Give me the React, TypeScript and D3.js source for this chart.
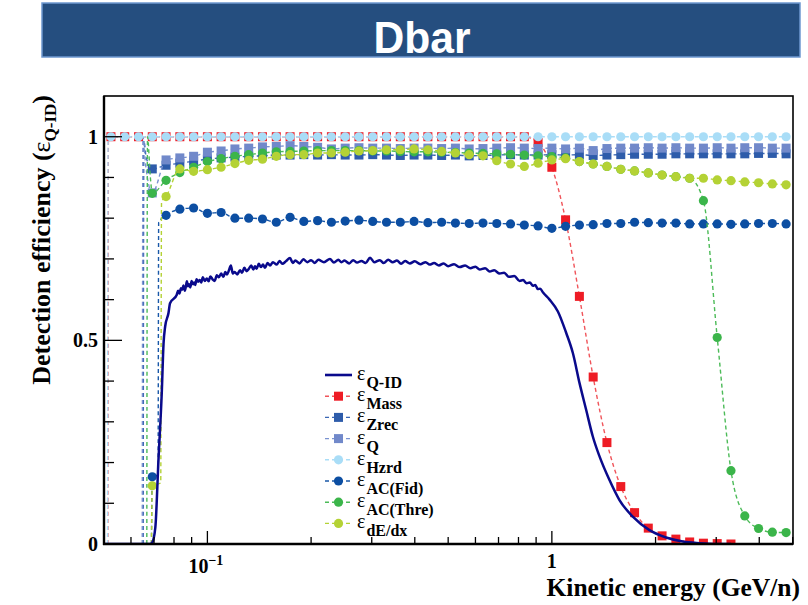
import React from 'react';
import * as d3 from 'd3';

// Bin centres (kinetic energy, GeV/n) where markers are drawn
const bins = [0.05248, 0.05754, 0.0631, 0.06918, 0.07586, 0.08318, 0.0912, 0.1, 0.1096, 0.1202, 0.1318, 0.1445, 0.1585, 0.1738, 0.1905, 0.2089, 0.2291, 0.2512, 0.2754, 0.302, 0.3311, 0.3631, 0.3981, 0.4365, 0.4786, 0.5248, 0.5754, 0.631, 0.6918, 0.7586, 0.8318, 0.912, 1.0, 1.096, 1.202, 1.318, 1.445, 1.585, 1.738, 1.905, 2.089, 2.291, 2.512, 2.754, 3.02, 3.311, 3.631, 3.981, 4.365, 4.786];

const massV = [1, 1, 1, 1, 1, 1, 1, 1, 1, 1, 1, 1, 1, 1, 1, 1, 1, 1, 1, 1, 1, 1, 1, 1, 1, 1, 1, 1, 1, 1, 1, 0.986, 0.925, 0.796, 0.608, 0.41, 0.249, 0.141, 0.077, 0.039, 0.02, 0.012, 0.005, 0.002, 0.001, 0, null, null, null, null];
const zrecV = [null, null, null, 0.921, 0.93, 0.935, 0.94, 0.945, 0.948, 0.95, 0.952, 0.953, 0.955, 0.955, 0.956, 0.955, 0.956, 0.955, 0.955, 0.956, 0.955, 0.954, 0.955, 0.955, 0.954, 0.955, 0.953, 0.954, 0.955, 0.956, 0.955, 0.955, 0.956, 0.955, 0.956, 0.954, 0.955, 0.956, 0.957, 0.957, 0.957, 0.958, 0.958, 0.958, 0.958, 0.958, 0.958, 0.959, 0.959, 0.958];
const qV = [null, null, null, 0.862, 0.943, 0.948, 0.952, 0.962, 0.965, 0.97, 0.972, 0.975, 0.976, 0.978, 0.976, 0.974, 0.97, 0.972, 0.973, 0.972, 0.972, 0.971, 0.972, 0.972, 0.971, 0.972, 0.97, 0.971, 0.972, 0.973, 0.972, 0.971, 0.972, 0.97, 0.972, 0.966, 0.971, 0.972, 0.972, 0.973, 0.972, 0.973, 0.972, 0.972, 0.973, 0.972, 0.973, 0.973, 0.972, 0.972];
const hzrdV = [1, 1, 1, 1, 1, 1, 1, 1, 1, 1, 1, 1, 1, 1, 1, 1, 1, 1, 1, 1, 1, 1, 1, 1, 1, 1, 1, 1, 1, 1, 1, 1, 1, 1, 1, 1, 1, 1, 1, 1, 1, 1, 1, 1, 1, 1, 1, 1, 1, 1];
const fidV = [null, null, null, 0.165, 0.807, 0.822, 0.825, 0.812, 0.814, 0.8, 0.8, 0.798, 0.79, 0.802, 0.792, 0.794, 0.79, 0.793, 0.795, 0.792, 0.79, 0.79, 0.792, 0.789, 0.79, 0.788, 0.787, 0.788, 0.787, 0.786, 0.783, 0.781, 0.775, 0.78, 0.783, 0.784, 0.787, 0.787, 0.79, 0.789, 0.788, 0.788, 0.786, 0.786, 0.786, 0.785, 0.786, 0.787, 0.787, 0.786];
const threV = [null, null, null, 0.861, 0.893, 0.912, 0.925, 0.939, 0.946, 0.952, 0.956, 0.96, 0.963, 0.964, 0.965, 0.966, 0.966, 0.966, 0.966, 0.965, 0.965, 0.964, 0.963, 0.963, 0.962, 0.961, 0.96, 0.959, 0.958, 0.957, 0.955, 0.953, 0.951, 0.948, 0.939, 0.933, 0.927, 0.92, 0.916, 0.911, 0.906, 0.902, 0.898, 0.843, 0.507, 0.18, 0.069, 0.038, 0.029, 0.028];
const dedxV = [null, null, null, 0.143, 0.853, 0.921, 0.915, 0.919, 0.925, 0.934, 0.942, 0.945, 0.952, 0.956, 0.956, 0.96, 0.96, 0.962, 0.965, 0.966, 0.968, 0.968, 0.97, 0.968, 0.964, 0.96, 0.956, 0.953, 0.941, 0.933, 0.927, 0.935, 0.943, 0.946, 0.939, 0.933, 0.927, 0.92, 0.916, 0.911, 0.906, 0.902, 0.898, 0.898, 0.894, 0.892, 0.889, 0.887, 0.884, 0.882];

// Extra points of the fine-binned curves near the thresholds (line only)
const massExtra = [[0.0514, 0], [0.0516, 1]];
const hzrdExtra = [[0.0513, 0], [0.0515, 1]];
const zrecExtra = [[0.0651, 0], [0.0654, 0.99], [0.0664, 0.95]];
const qExtra = [[0.0647, 0], [0.065, 1.0], [0.0662, 0.93]];
const fidExtra = [[0.0688, 0], [0.0719, 0.17], [0.0722, 0.79]];
const threExtra = [[0.0667, 0], [0.067, 1.0], [0.0683, 0.9]];
const dedxExtra = [[0.0688, 0], [0.0732, 0.15], [0.0736, 0.84]];

// Q-ID efficiency (solid curve)
const qidE = [0.0502, 0.0682, 0.0691, 0.0706, 0.0721, 0.0737, 0.0746, 0.0754, 0.0771, 0.0779, 0.0815, 0.0822, 0.083, 0.0838, 0.0845, 0.0852, 0.086, 0.0866, 0.0872, 0.0878, 0.0885, 0.0892, 0.09, 0.0908, 0.0915, 0.0922, 0.093, 0.094, 0.095, 0.096, 0.097, 0.0983, 0.0996, 0.1008, 0.102, 0.1035, 0.105, 0.1065, 0.108, 0.1096, 0.1113, 0.1127, 0.114, 0.1155, 0.117, 0.1185, 0.12, 0.122, 0.1244, 0.126, 0.128, 0.13, 0.132, 0.134, 0.136, 0.1375, 0.139, 0.141, 0.143, 0.145, 0.147, 0.1495, 0.152, 0.155, 0.1589, 0.162, 0.165, 0.169, 0.1737, 0.177, 0.18, 0.185, 0.19, 0.195, 0.2, 0.205, 0.21, 0.218, 0.2268, 0.233, 0.24, 0.245, 0.25, 0.258, 0.265, 0.272, 0.28, 0.288, 0.2966, 0.305, 0.3167, 0.325, 0.335, 0.345, 0.355, 0.365, 0.375, 0.387, 0.4, 0.415, 0.43, 0.4419, 0.455, 0.47, 0.485, 0.5, 0.52, 0.54, 0.56, 0.58, 0.6, 0.6172, 0.64, 0.66, 0.68, 0.7055, 0.727, 0.75, 0.778, 0.806, 0.825, 0.845, 0.863, 0.881, 0.895, 0.91, 0.925, 0.9416, 0.9847, 1.041, 1.1008, 1.1506, 1.2032, 1.258, 1.3148, 1.3751, 1.4697, 1.5712, 1.7178, 1.9197, 2.1456, 2.3977, 2.6802, 2.996, 3.3113];
const qidV = [0, 0, 0.003, 0.04, 0.206, 0.37, 0.493, 0.534, 0.567, 0.591, 0.612, 0.622, 0.615, 0.628, 0.624, 0.635, 0.622, 0.632, 0.645, 0.633, 0.638, 0.63, 0.646, 0.638, 0.642, 0.636, 0.65, 0.644, 0.648, 0.642, 0.655, 0.646, 0.652, 0.645, 0.657, 0.65, 0.646, 0.66, 0.655, 0.664, 0.656, 0.668, 0.662, 0.672, 0.684, 0.664, 0.668, 0.662, 0.672, 0.666, 0.678, 0.67, 0.676, 0.684, 0.674, 0.682, 0.676, 0.688, 0.68, 0.686, 0.678, 0.69, 0.684, 0.692, 0.686, 0.695, 0.688, 0.694, 0.702, 0.69, 0.696, 0.689, 0.699, 0.692, 0.697, 0.69, 0.698, 0.692, 0.7, 0.691, 0.698, 0.692, 0.696, 0.689, 0.697, 0.691, 0.695, 0.69, 0.703, 0.692, 0.697, 0.69, 0.698, 0.692, 0.696, 0.688, 0.695, 0.689, 0.694, 0.687, 0.692, 0.686, 0.69, 0.684, 0.689, 0.682, 0.687, 0.68, 0.684, 0.677, 0.681, 0.674, 0.677, 0.669, 0.672, 0.664, 0.666, 0.656, 0.658, 0.646, 0.648, 0.64, 0.642, 0.634, 0.636, 0.626, 0.627, 0.618, 0.6, 0.571, 0.518, 0.469, 0.395, 0.329, 0.264, 0.215, 0.157, 0.108, 0.067, 0.034, 0.016, 0.006, 0.002, 0, 0];

const legendSubs = ['Q-ID', 'Mass', 'Zrec', 'Q', 'Hzrd', 'AC(Fid)', 'AC(Thre)', 'dE/dx'];
const yTickLabels = [0, 0.5, 1];
const xTickLabels = [{ v: 0.1, base: '10', exp: '\u22121' }, { v: 1, base: '1', exp: '' }];
const title = 'Dbar';
const xTitle = 'Kinetic energy (GeV/n)';
const yTitle = 'Detection efficiency (';

const QID_COLOR = '#0A0A8C';
const series = [
  { name: 'Mass', vals: massV, extra: massExtra, color: '#EE1C25', line: '#F0545A', marker: 'square' },
  { name: 'Zrec', vals: zrecV, extra: zrecExtra, color: '#2E5CAA', line: '#3A66B4', marker: 'square' },
  { name: 'Q', vals: qV, extra: qExtra, color: '#7189CA', line: '#7A92D0', marker: 'square' },
  { name: 'Hzrd', vals: hzrdV, extra: hzrdExtra, color: '#A9DDF7', line: '#A9DDF7', marker: 'circle' },
  { name: 'AC(Fid)', vals: fidV, extra: fidExtra, color: '#0C4EA2', line: '#1A58A8', marker: 'circle' },
  { name: 'AC(Thre)', vals: threV, extra: threExtra, color: '#3BB54A', line: '#4CBB58', marker: 'circle' },
  { name: 'dE/dx', vals: dedxV, extra: dedxExtra, color: '#B4D235', line: '#B4D235', marker: 'circle' },
];

const L = 104, R = 793, T = 96, B = 544;
const SERIF = '"Liberation Serif", "Times New Roman", serif';

function Marker({ type, cx, cy, color }: { type: string; cx: number; cy: number; color: string }) {
  if (type === 'square') return <rect x={cx - 4.5} y={cy - 4.5} width={9} height={9} fill={color} />;
  return <circle cx={cx} cy={cy} r={4.6} fill={color} />;
}

export default function App() {
  const x = d3.scaleLog().domain([0.0501, 5.012]).range([L, R]);
  const y = d3.scaleLinear().domain([0, 1.1]).range([B, T]);
  const line = d3.line<number[]>().x(d => x(d[0])).y(d => y(d[1])).curve(d3.curveMonotoneX);

  const xTicks = x.ticks().filter(v => v > 0.0501 && v < 5.01);
  const yTicks = d3.range(0, 11).map(i => i / 10);

  const qidPts = qidE.map((e, i) => [e, qidV[i]]);

  return (
    <svg width={808} height={605} style={{ position: 'absolute', left: 0, top: 0, background: '#fff' }}>
      <defs>
        <clipPath id="plotClip"><rect x={L} y={T} width={R - L} height={B - T} /></clipPath>
      </defs>
      {/* banner */}
      <rect x={42} y={3} width={758} height={54} fill="#254E7F" stroke="#6E98D0" strokeWidth={1.5} />
      <text x={422} y={53} textAnchor="middle" fill="#fff" fontFamily='"Liberation Sans", Arial, sans-serif' fontWeight="bold" fontSize={44} textLength={97} lengthAdjust="spacingAndGlyphs">{title}</text>

      {/* series */}
      <g clipPath="url(#plotClip)">
        {series.map(s => {
          const pts: number[][] = [];
          bins.forEach((b, i) => { if (s.vals[i] !== null) pts.push([b, s.vals[i] as number]); });
          const all = [...s.extra, ...pts].sort((a, b) => a[0] - b[0]);
          return (
            <g key={s.name}>
              <path d={line(all) || ''} fill="none" stroke={s.line} strokeWidth={1.4} strokeDasharray="4 3" />
              {pts.map((p, i) => <Marker key={i} type={s.marker} cx={x(p[0])} cy={y(p[1])} color={s.color} />)}
            </g>
          );
        })}
        <path d={line(qidPts) || ''} fill="none" stroke={QID_COLOR} strokeWidth={2.5} strokeLinejoin="round" />
      </g>

      {/* frame */}
      <rect x={L} y={T} width={R - L} height={B - T} fill="none" stroke="#000" strokeWidth={1.6} />
      <line x1={L} x2={L} y1={T} y2={B + 1} stroke="#000" strokeWidth={2.4} />
      <line x1={L - 1} x2={R} y1={B} y2={B} stroke="#000" strokeWidth={2.4} />

      {/* x ticks */}
      {xTicks.map((v, i) => {
        const major = Math.abs(Math.log10(v) - Math.round(Math.log10(v))) < 1e-6;
        return <line key={i} x1={x(v)} x2={x(v)} y1={B} y2={B - (major ? 13 : 7)} stroke="#000" strokeWidth={1.3} />;
      })}
      {/* y ticks */}
      {yTicks.map((v, i) => {
        const major = i % 5 === 0;
        return <line key={i} x1={L} x2={L + (major ? 18 : 10)} y1={y(v)} y2={y(v)} stroke="#000" strokeWidth={1.3} />;
      })}
      {yTickLabels.map(v => (
        <text key={v} x={98} y={y(v) + 7} textAnchor="end" fontFamily={SERIF} fontWeight="bold" fontSize={20}>{String(v)}</text>
      ))}
      {xTickLabels.map(t => (
        <text key={t.v} x={x(t.v) + (t.exp ? -19 : -5)} y={t.exp ? 573 : 568} fontFamily={SERIF} fontWeight="bold" fontSize={20}>
          {t.base}
          {t.exp && <tspan dy={-8} fontSize={14}>{t.exp}</tspan>}
        </text>
      ))}

      {/* axis titles */}
      <text x={800} y={596} textAnchor="end" fontFamily={SERIF} fontWeight="bold" fontSize={25.5}>{xTitle}</text>
      <text transform={`translate(50, 95) rotate(-90)`} textAnchor="end" fontFamily={SERIF} fontWeight="bold" fontSize={26}>
        {yTitle}
        <tspan fontWeight="normal">ε</tspan>
        <tspan fontSize={17} dy={6}>Q-ID</tspan>
        <tspan dy={-6}>)</tspan>
      </text>

      {/* legend */}
      {legendSubs.map((name, i) => {
        const ly = 375 + i * 21.2;
        const s = series.find(d => d.name === name);
        return (
          <g key={name}>
            {s ? (
              <>
                <line x1={325} x2={352} y1={ly} y2={ly} stroke={s.line} strokeWidth={1.4} strokeDasharray="4 3" />
                <Marker type={s.marker} cx={338.5} cy={ly} color={s.color} />
              </>
            ) : (
              <line x1={325} x2={352} y1={ly} y2={ly} stroke={QID_COLOR} strokeWidth={2.6} />
            )}
            <text x={357} y={ly + 5} fontFamily={SERIF} fontSize={20}>ε
              <tspan dx={1} dy={8} fontSize={16} fontWeight="bold">{name}</tspan>
            </text>
          </g>
        );
      })}
    </svg>
  );
}
